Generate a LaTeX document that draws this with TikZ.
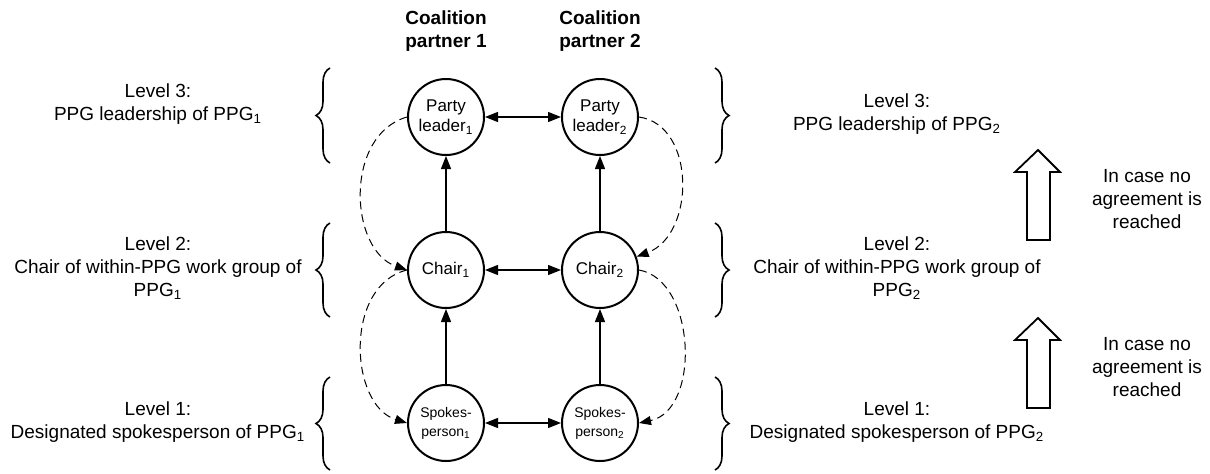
\documentclass[tikz,border=0pt]{standalone}
\usepackage{fontspec}
\setmainfont{Liberation Sans}
\usepackage{tikz}
\usetikzlibrary{arrows.meta,decorations.pathreplacing}

\begin{document}
\begin{tikzpicture}[x=0.5pt,y=-0.5pt,
  actor/.style={draw,circle,line width=1pt,minimum size=38pt,inner sep=0pt,align=center,
    font=\fontsize{8.5}{10}\selectfont},
  lbl/.style={align=center,font=\fontsize{9.5}{11.5}\selectfont},
  link/.style={line width=0.65pt,-{Triangle[length=6.5pt,width=5pt]}},
  both/.style={line width=0.65pt,{Triangle[length=6.5pt,width=5pt]}-{Triangle[length=6.5pt,width=5pt]}},
  deleg/.style={dash pattern=on 4pt off 2.5pt,line width=0.5pt,-{Triangle[length=6pt,width=4.5pt]}},
  lvlbrace/.style={decorate,decoration={brace,amplitude=7pt},line width=0.8pt}]
  \useasboundingbox (0,0) rectangle (1210,473);

  % partners
  \node[lbl,font=\bfseries\fontsize{9.5}{11.5}\selectfont] (head1) at (446,31) {Coalition\\partner 1};
  \node[lbl,font=\bfseries\fontsize{9.5}{11.5}\selectfont] (head2) at (600,31) {Coalition\\partner 2};

  \node[actor] (pl1) at (446,117) {Party\\leader\textsubscript{1}};
  \node[actor] (pl2) at (600,117) {Party\\leader\textsubscript{2}};
  \node[actor] (ch1) at (446,270) {Chair\textsubscript{1}};
  \node[actor] (ch2) at (600,270) {Chair\textsubscript{2}};
  \node[actor,font=\fontsize{7}{9.5}\selectfont] (sp1) at (446,423) {Spokes-\\person\textsubscript{1}};
  \node[actor,font=\fontsize{7}{9.5}\selectfont] (sp2) at (600,423) {Spokes-\\person\textsubscript{2}};

  \draw[link] (sp1) -- (ch1);
  \draw[link] (ch1) -- (pl1);
  \draw[link] (sp2) -- (ch2);
  \draw[link] (ch2) -- (pl2);
  \draw[both] (pl1) -- (pl2);
  \draw[both] (ch1) -- (ch2);
  \draw[both] (sp1) -- (sp2);

  \draw[deleg] (pl1.west) .. controls +(-63,18) and +(-58,-20) .. (ch1.west);
  \draw[deleg] (ch1.west) .. controls +(-63,15) and +(-58,-18) .. (sp1.west);
  \draw[deleg] (pl2.east) .. controls +(57,8) and +(59,-22) .. (ch2.20);
  \draw[deleg] (ch2.east) .. controls +(57,10) and +(62,-13) .. (sp2.east);

  % levels
  \foreach \top/\bot in {68/163,223/317,377/470} {
    \draw[lvlbrace] (330,\bot) -- (330,\top);
    \draw[lvlbrace] (715,\top) -- (715,\bot);
  }
  \node[lbl] (l3a) at (158,104) {Level 3:\\PPG leadership of PPG\textsubscript{1}};
  \node[lbl] (l2a) at (158,268) {Level 2:\\Chair of within-PPG work group of\\PPG\textsubscript{1}};
  \node[lbl] (l1a) at (158,422) {Level 1:\\Designated spokesperson of PPG\textsubscript{1}};
  \node[lbl] (l3b) at (897,114) {Level 3:\\PPG leadership of PPG\textsubscript{2}};
  \node[lbl] (l2b) at (897,268) {Level 2:\\Chair of within-PPG work group of\\PPG\textsubscript{2}};
  \node[lbl] (l1b) at (897,422) {Level 1:\\Designated spokesperson of PPG\textsubscript{2}};

  % escalation
  \foreach \t in {150,318}
    \draw[line width=0.9pt] (1038,\t) -- (1060,\t+22) -- (1050,\t+22) -- (1050,\t+90)
      -- (1027,\t+90) -- (1027,\t+22) -- (1015,\t+22) -- cycle;
  \node[lbl] (esc2) at (1147,199) {In case no\\agreement is\\reached};
  \node[lbl] (esc1) at (1147,367) {In case no\\agreement is\\reached};
\end{tikzpicture}
\end{document}
